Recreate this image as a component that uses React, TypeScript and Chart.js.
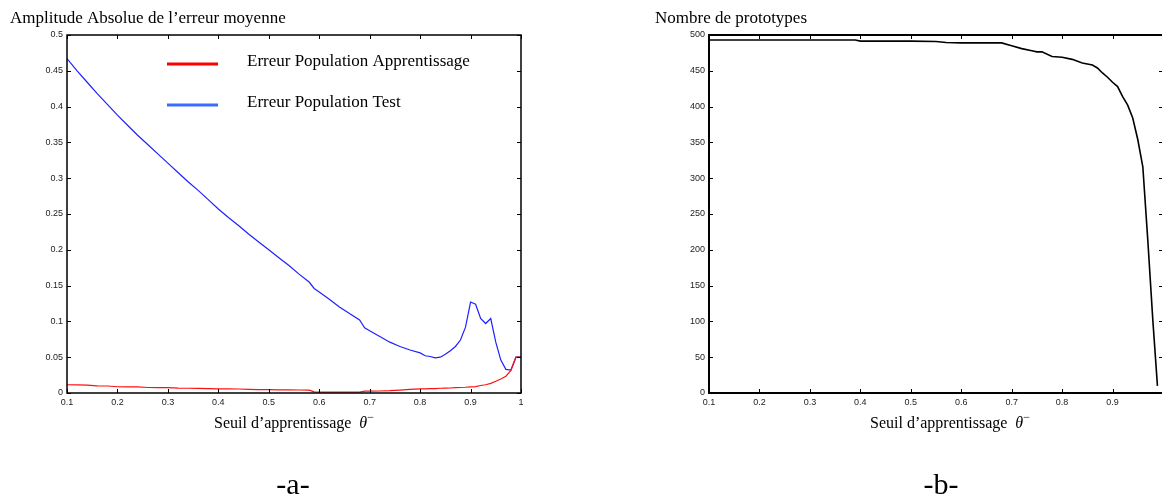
import React, { useEffect, useRef } from "react";
import { Chart, registerables } from "chart.js";

Chart.register(...registerables);

// ---------- data ----------
const seuilA = [
  0.1, 0.12, 0.14, 0.16, 0.18, 0.2, 0.22, 0.24, 0.26, 0.28, 0.3, 0.32, 0.34, 0.36, 0.38, 0.4,
  0.42, 0.44, 0.46, 0.48, 0.5, 0.52, 0.54, 0.56, 0.58, 0.59, 0.6, 0.62, 0.64, 0.66, 0.68, 0.69,
  0.7, 0.72, 0.74, 0.76, 0.78, 0.8, 0.81, 0.82, 0.83, 0.84, 0.85, 0.86, 0.87, 0.88, 0.89, 0.9,
  0.91, 0.92, 0.93, 0.94, 0.95, 0.96, 0.97, 0.98, 0.99, 1.0,
];
const erreurTest = [
  0.467, 0.45, 0.434, 0.418, 0.403, 0.388, 0.374, 0.36, 0.347, 0.334, 0.321, 0.308, 0.295, 0.283,
  0.27, 0.257, 0.245, 0.234, 0.222, 0.211, 0.2, 0.189, 0.178, 0.166, 0.155, 0.146, 0.141, 0.131,
  0.12, 0.111, 0.102, 0.091, 0.087, 0.079, 0.071, 0.065, 0.06, 0.056, 0.052, 0.051, 0.049, 0.05,
  0.054, 0.059, 0.065, 0.074, 0.092, 0.127, 0.124, 0.104, 0.097, 0.104, 0.071, 0.046, 0.033,
  0.032, 0.05, 0.05,
];
const erreurApprentissage = [
  0.0115, 0.0113, 0.011, 0.01, 0.0098, 0.0087, 0.0085, 0.0085, 0.0077, 0.0075, 0.0075, 0.0067,
  0.0066, 0.0065, 0.006, 0.0058, 0.0058, 0.0056, 0.0052, 0.0048, 0.0046, 0.0044, 0.0043, 0.0042,
  0.004, 0.0015, 0.0012, 0.0012, 0.0012, 0.0012, 0.0013, 0.0025, 0.0027, 0.0028, 0.0032, 0.004,
  0.005, 0.0057, 0.0058, 0.006, 0.0062, 0.0066, 0.0068, 0.007, 0.0074, 0.0077, 0.008, 0.0085,
  0.009, 0.0105, 0.0115, 0.0135, 0.0165, 0.0195, 0.0235, 0.0315, 0.05, 0.05,
];

const seuilB = [
  0.1, 0.2, 0.3, 0.39, 0.4, 0.5, 0.55, 0.57, 0.6, 0.68, 0.7, 0.72, 0.74, 0.75, 0.76, 0.78, 0.8,
  0.82, 0.84, 0.86, 0.87, 0.88, 0.89, 0.9, 0.91, 0.92, 0.93, 0.94, 0.95, 0.96, 0.97, 0.98, 0.989,
];
const nbPrototypes = [
  493, 493, 493, 493, 491.5, 491.5, 491, 489.5, 489, 489, 485, 481, 478, 476.5, 476.5, 470, 469,
  466, 461, 458, 454, 447, 441, 434, 428, 414, 402, 384, 354, 316, 212, 100, 10,
];

const xTicksA = [0.1, 0.2, 0.3, 0.4, 0.5, 0.6, 0.7, 0.8, 0.9, 1.0];
const yTicksA = [0, 0.05, 0.1, 0.15, 0.2, 0.25, 0.3, 0.35, 0.4, 0.45, 0.5];
const xTicksB = [0.1, 0.2, 0.3, 0.4, 0.5, 0.6, 0.7, 0.8, 0.9];
const yTicksB = [0, 50, 100, 150, 200, 250, 300, 350, 400, 450, 500];

const titleA = "Amplitude Absolue de l’erreur moyenne";
const titleB = "Nombre de prototypes";
const axisTitle = "Seuil d’apprentissage";
const labelA = "-a-";
const labelB = "-b-";
const legendLabels = ["Erreur Population Apprentissage", "Erreur Population Test"];

// ---------- styles ----------
const SERIF = "'Liberation Serif','Times New Roman',Times,serif";
const SANS = "'Liberation Sans',Arial,Helvetica,sans-serif";

const fmt = (v: number) => String(parseFloat(v.toFixed(2)));

function drawAxisTitle(ctx: CanvasRenderingContext2D, cx: number, baseline: number) {
  const size = 16;
  ctx.save();
  ctx.fillStyle = "#000";
  ctx.textBaseline = "alphabetic";
  ctx.textAlign = "left";
  ctx.font = `${size}px ${SERIF}`;
  const t1 = axisTitle + "  ";
  const w1 = ctx.measureText(t1).width;
  ctx.font = `italic ${size}px ${SERIF}`;
  const w2 = ctx.measureText("θ").width;
  ctx.font = `${Math.round(size * 0.75)}px ${SERIF}`;
  const w3 = ctx.measureText("−").width;
  let x = cx - (w1 + w2 + w3) / 2;
  ctx.font = `${size}px ${SERIF}`;
  ctx.fillText(t1, x, baseline);
  x += w1;
  ctx.font = `italic ${size}px ${SERIF}`;
  ctx.fillText("θ", x, baseline);
  x += w2;
  ctx.font = `${Math.round(size * 0.75)}px ${SERIF}`;
  ctx.fillText("−", x, baseline - 7);
  ctx.restore();
}

function boxPlugin(id: string, lineWidth: number, tickLen: number) {
  return {
    id,
    afterDatasetsDraw(chart: any) {
      const { ctx, chartArea: a, scales } = chart;
      ctx.save();
      ctx.strokeStyle = "#000";
      ctx.lineWidth = 1;
      ctx.beginPath();
      scales.x.ticks.forEach((t: any) => {
        const px = Math.round(scales.x.getPixelForValue(t.value)) + 0.5;
        ctx.moveTo(px, a.bottom);
        ctx.lineTo(px, a.bottom - tickLen);
        ctx.moveTo(px, a.top);
        ctx.lineTo(px, a.top + tickLen);
      });
      scales.y.ticks.forEach((t: any) => {
        const py = Math.round(scales.y.getPixelForValue(t.value)) + 0.5;
        ctx.moveTo(a.left, py);
        ctx.lineTo(a.left + tickLen, py);
        ctx.moveTo(a.right, py);
        ctx.lineTo(a.right - tickLen, py);
      });
      ctx.stroke();
      ctx.lineWidth = lineWidth;
      ctx.strokeRect(a.left, a.top, a.right - a.left, a.bottom - a.top);
      ctx.restore();
    },
  };
}

function baseScales(xTicks: number[], yTicks: number[], xMin: number, xMax: number, yMax: number) {
  const tickFont = { family: SANS, size: 9 };
  return {
    x: {
      type: "linear" as const,
      min: xMin,
      max: xMax,
      afterBuildTicks: (s: any) => {
        s.ticks = xTicks.map((v) => ({ value: v }));
      },
      afterFit: (s: any) => {
        s.height = 20;
      },
      grid: { display: false, drawTicks: false },
      border: { display: false },
      ticks: {
        font: tickFont,
        color: "#222",
        padding: 4,
        maxRotation: 0,
        autoSkip: false,
        callback: (v: any) => fmt(Number(v)),
      },
    },
    y: {
      type: "linear" as const,
      min: 0,
      max: yMax,
      afterBuildTicks: (s: any) => {
        s.ticks = yTicks.map((v) => ({ value: v }));
      },
      afterFit: (s: any) => {
        s.width = 40;
      },
      grid: { display: false, drawTicks: false },
      border: { display: false },
      ticks: {
        font: tickFont,
        color: "#222",
        padding: 4,
        autoSkip: false,
        callback: (v: any) => fmt(Number(v)),
      },
    },
  };
}

export default function App() {
  const refA = useRef<HTMLCanvasElement>(null);
  const refB = useRef<HTMLCanvasElement>(null);

  useEffect(() => {
    const textA = {
      id: "textA",
      afterDraw(chart: any) {
        const ctx = chart.ctx as CanvasRenderingContext2D;
        ctx.save();
        ctx.fillStyle = "#000";
        ctx.textBaseline = "alphabetic";
        ctx.font = `17px ${SERIF}`;
        ctx.textAlign = "left";
        ctx.fillText(titleA, 10, 23);
        // legend
        const colors = ["#ff0000", "#3c6cff"];
        const ys = [64, 105];
        ys.forEach((y, i) => {
          ctx.strokeStyle = colors[i];
          ctx.lineWidth = 3;
          ctx.beginPath();
          ctx.moveTo(167, y);
          ctx.lineTo(218, y);
          ctx.stroke();
          ctx.fillText(legendLabels[i], 247, y + 2);
        });
        ctx.font = `30px ${SERIF}`;
        ctx.textAlign = "center";
        ctx.fillText(labelA, 293, 494);
        ctx.restore();
        drawAxisTitle(ctx, 294, 428);
      },
    };
    const textB = {
      id: "textB",
      afterDraw(chart: any) {
        const ctx = chart.ctx as CanvasRenderingContext2D;
        ctx.save();
        ctx.fillStyle = "#000";
        ctx.textBaseline = "alphabetic";
        ctx.font = `17px ${SERIF}`;
        ctx.textAlign = "left";
        ctx.fillText(titleB, 655 - 581, 23);
        ctx.font = `30px ${SERIF}`;
        ctx.textAlign = "center";
        ctx.fillText(labelB, 941 - 581, 494);
        ctx.restore();
        drawAxisTitle(ctx, 950 - 581, 428);
      },
    };

    const chartA = new Chart(refA.current!, {
      type: "line",
      data: {
        datasets: [
          {
            label: legendLabels[0],
            data: seuilA.map((x, i) => ({ x, y: erreurApprentissage[i] })),
            borderColor: "#ff1010",
            borderWidth: 1.2,
            pointRadius: 0,
            tension: 0,
          },
          {
            label: legendLabels[1],
            data: seuilA.map((x, i) => ({ x, y: erreurTest[i] })),
            borderColor: "#2020ff",
            borderWidth: 1.2,
            pointRadius: 0,
            tension: 0,
          },
        ],
      },
      options: {
        responsive: false,
        animation: false,
        layout: { padding: { left: 27, right: 60, top: 35, bottom: 84 } },
        plugins: { legend: { display: false }, tooltip: { enabled: false } },
        scales: baseScales(xTicksA, yTicksA, 0.1, 1.0, 0.5) as any,
      },
      plugins: [boxPlugin("boxA", 1.5, 4), textA],
    });

    const chartB = new Chart(refB.current!, {
      type: "line",
      data: {
        datasets: [
          {
            label: titleB,
            data: seuilB.map((x, i) => ({ x, y: nbPrototypes[i] })),
            borderColor: "#000",
            borderWidth: 1.6,
            pointRadius: 0,
            tension: 0,
          },
        ],
      },
      options: {
        responsive: false,
        animation: false,
        layout: { padding: { left: 88, right: 8, top: 35, bottom: 84 } },
        plugins: { legend: { display: false }, tooltip: { enabled: false } },
        scales: baseScales(xTicksB, yTicksB, 0.1, 1.0, 500) as any,
      },
      plugins: [boxPlugin("boxB", 2, 4), textB],
    });

    return () => {
      chartA.destroy();
      chartB.destroy();
    };
  }, []);

  return (
    <div
      style={{
        position: "fixed",
        left: 0,
        top: 0,
        width: 1162,
        height: 497,
        overflow: "hidden",
        background: "#fff",
      }}
    >
      <canvas
        ref={refA}
        width={581}
        height={497}
        style={{ position: "absolute", left: 0, top: 0, display: "block" }}
      />
      <canvas
        ref={refB}
        width={590}
        height={497}
        style={{ position: "absolute", left: 581, top: 0, display: "block" }}
      />
    </div>
  );
}
